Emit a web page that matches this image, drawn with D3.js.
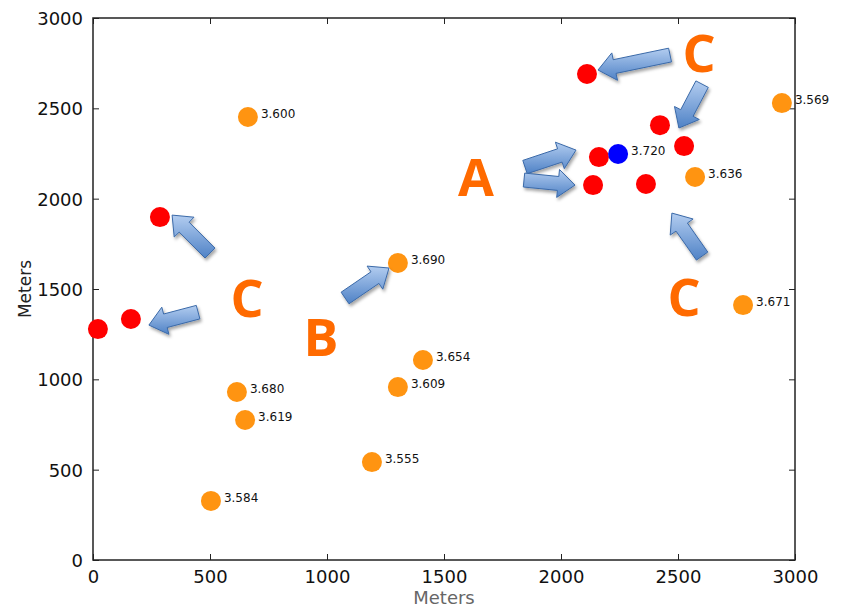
<!DOCTYPE html>
<html>
<head>
<meta charset="utf-8">
<script src="https://cdn.jsdelivr.net/npm/d3@7"></script>
<style>
  html, body { margin: 0; padding: 0; background: #fff; }
  svg { display: block; font-family: "DejaVu Sans", sans-serif; }
</style>
</head>
<body>
<div id="chart"></div>
<script>
// tick values
const xTicks = [0, 500, 1000, 1500, 2000, 2500, 3000];
const yTicks = [0, 500, 1000, 1500, 2000, 2500, 3000];

// labelled sites (orange)
const siteX = [662, 2944, 2573, 1303, 2778, 1410, 615, 1303, 650, 1192, 504];
const siteY = [2452, 2529, 2120, 1644, 1411, 1107, 930, 957, 775, 542, 327];
const siteLabel = ['3.600', '3.569', '3.636', '3.690', '3.671', '3.654', '3.680', '3.609', '3.619', '3.555', '3.584'];

// best site (blue)
const bestX = [2244];
const bestY = [2247];
const bestLabel = ['3.720'];

// unlabelled sites (red)
const redX = [2111, 2423, 2162, 2526, 2137, 2363, 286, 162, 21];
const redY = [2690, 2407, 2230, 2291, 2075, 2081, 1898, 1334, 1278];

// annotation letters
const noteText = ['A', 'B', 'C', 'C', 'C'];
const noteX = [1637, 974, 2590, 658, 2526];
const noteY = [2120, 1234, 2806, 1450, 1455];

// annotation arrows: tail -> tip
const arrowX0 = [2466, 2603, 1846, 1842, 2603, 500, 449, 1077];
const arrowY0 = [2795, 2634, 2175, 2103, 1682, 1699, 1372, 1450];
const arrowX1 = [2158, 2504, 2064, 2060, 2474, 338, 239, 1265];
const arrowY1 = [2712, 2391, 2269, 2075, 1920, 1909, 1300, 1616];

const W = 844, H = 607;
const margin = { top: 18, right: 49, bottom: 47, left: 93 };
const width = W - margin.left - margin.right;
const height = H - margin.top - margin.bottom;

const svg = d3.select('#chart').append('svg')
  .attr('width', W)
  .attr('height', H);

const defs = svg.append('defs');
const grad = defs.append('linearGradient')
  .attr('id', 'arrowGrad')
  .attr('x1', '0%').attr('x2', '0%').attr('y1', '0%').attr('y2', '100%');
grad.append('stop').attr('offset', '0%').attr('stop-color', '#b3cdf0');
grad.append('stop').attr('offset', '100%').attr('stop-color', '#4f82c6');

const shadow = defs.append('filter')
  .attr('id', 'shadow')
  .attr('x', '-50%').attr('y', '-50%').attr('width', '200%').attr('height', '200%');
shadow.append('feDropShadow')
  .attr('dx', 1.5).attr('dy', 2.5).attr('stdDeviation', 1.8)
  .attr('flood-color', '#000').attr('flood-opacity', 0.35);

const g = svg.append('g')
  .attr('transform', `translate(${margin.left},${margin.top})`);

const x = d3.scaleLinear().domain([0, 3000]).range([0, width]);
const y = d3.scaleLinear().domain([0, 3000]).range([height, 0]);

// axes, matplotlib style: ticks inward on all four sides
function styleAxis(sel) {
  sel.select('.domain').remove();
  sel.selectAll('.tick line').attr('stroke', '#222').attr('stroke-width', 1);
  sel.selectAll('.tick text').attr('fill', '#111').style('font-size', '18px')
    .style('font-family', '"DejaVu Sans", sans-serif');
}

g.append('g')
  .attr('transform', `translate(0,${height})`)
  .call(d3.axisBottom(x).tickValues(xTicks).tickFormat(d3.format('d')).tickSizeInner(-6).tickPadding(10))
  .call(styleAxis);

g.append('g')
  .call(d3.axisLeft(y).tickValues(yTicks).tickFormat(d3.format('d')).tickSizeInner(-6).tickPadding(10))
  .call(styleAxis)
  .call(s => s.selectAll('.tick text').attr('dy', '0.36em'));

g.append('g')
  .call(d3.axisTop(x).tickValues(xTicks).tickFormat('').tickSizeInner(-6))
  .call(styleAxis);

g.append('g')
  .attr('transform', `translate(${width},0)`)
  .call(d3.axisRight(y).tickValues(yTicks).tickFormat('').tickSizeInner(-6))
  .call(styleAxis);

g.append('rect')
  .attr('width', width)
  .attr('height', height)
  .attr('fill', 'none')
  .attr('stroke', '#222')
  .attr('stroke-width', 1.5);

// axis titles
svg.append('text')
  .attr('x', margin.left + width / 2)
  .attr('y', 604)
  .attr('text-anchor', 'middle')
  .attr('fill', '#666')
  .style('font-size', '18px')
  .text('Meters');

svg.append('text')
  .attr('transform', `translate(31,${margin.top + height / 2}) rotate(-90)`)
  .attr('text-anchor', 'middle')
  .attr('fill', '#222')
  .style('font-size', '17px')
  .text('Meters');

// points
const R = 10;
g.selectAll('.red').data(redX).enter().append('circle')
  .attr('cx', (d, i) => x(redX[i]))
  .attr('cy', (d, i) => y(redY[i]))
  .attr('r', R)
  .attr('fill', '#ff0000');

g.selectAll('.site').data(siteX).enter().append('circle')
  .attr('cx', (d, i) => x(siteX[i]))
  .attr('cy', (d, i) => y(siteY[i]))
  .attr('r', R)
  .attr('fill', '#ff9411');

g.selectAll('.best').data(bestX).enter().append('circle')
  .attr('cx', (d, i) => x(bestX[i]))
  .attr('cy', (d, i) => y(bestY[i]))
  .attr('r', R)
  .attr('fill', '#0000ff');

const labels = siteLabel.map((t, i) => ({ t, x: siteX[i], y: siteY[i] }))
  .concat(bestLabel.map((t, i) => ({ t, x: bestX[i], y: bestY[i] })));

g.selectAll('.lbl').data(labels).enter().append('text')
  .attr('x', d => x(d.x) + 13)
  .attr('y', d => y(d.y) + 1)
  .attr('fill', '#111')
  .style('font-size', '12px')
  .text(d => d.t);

// block arrows
function arrowPath(x0, y0, x1, y1) {
  const dx = x1 - x0, dy = y1 - y0;
  const len = Math.hypot(dx, dy);
  const ux = dx / len, uy = dy / len;
  const nx = -uy, ny = ux;
  const sw = 7, hw = 14, hl = Math.min(17, len * 0.45);
  const bx = x1 - ux * hl, by = y1 - uy * hl;
  const pts = [
    [x0 + nx * sw, y0 + ny * sw],
    [bx + nx * sw, by + ny * sw],
    [bx + nx * hw, by + ny * hw],
    [x1, y1],
    [bx - nx * hw, by - ny * hw],
    [bx - nx * sw, by - ny * sw],
    [x0 - nx * sw, y0 - ny * sw]
  ];
  return 'M' + pts.map(p => p[0].toFixed(1) + ',' + p[1].toFixed(1)).join('L') + 'Z';
}

g.selectAll('.arrow').data(arrowX0).enter().append('path')
  .attr('d', (d, i) => arrowPath(x(arrowX0[i]), y(arrowY0[i]), x(arrowX1[i]), y(arrowY1[i])))
  .attr('fill', 'url(#arrowGrad)')
  .attr('stroke', '#3a69a8')
  .attr('stroke-width', 1)
  .attr('stroke-linejoin', 'miter')
  .attr('filter', 'url(#shadow)');

// letters
g.selectAll('.note').data(noteText).enter().append('text')
  .attr('x', (d, i) => x(noteX[i]))
  .attr('y', (d, i) => y(noteY[i]))
  .attr('dy', '0.36em')
  .attr('text-anchor', 'middle')
  .attr('fill', '#ff6a00')
  .style('font-family', '"Open Sans", sans-serif')
  .style('font-weight', 700)
  .style('font-size', '52px')
  .text(d => d);
</script>
</body>
</html>
